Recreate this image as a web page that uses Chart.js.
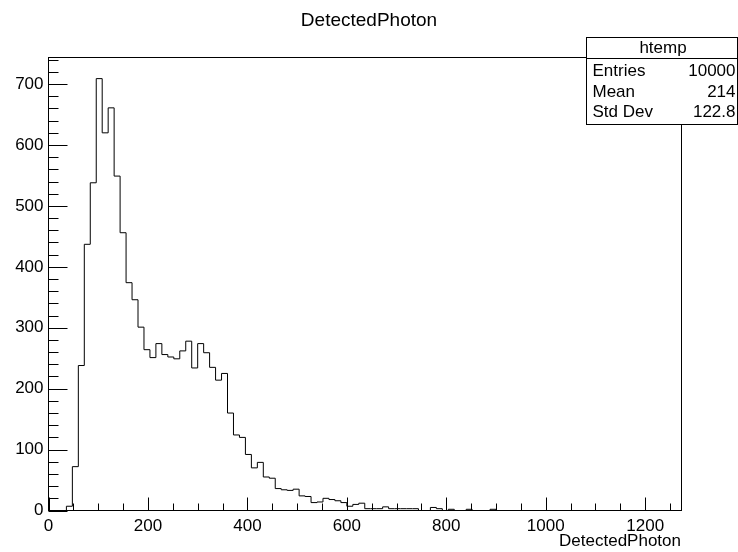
<!DOCTYPE html>
<html>
<head>
<meta charset="utf-8">
<script src="https://cdn.jsdelivr.net/npm/chart.js@4.4.0/dist/chart.umd.min.js"></script>
<style>
  body { margin: 0; background: #fff; }
  canvas { display: block; }
</style>
</head>
<body>
<canvas id="hist" width="738" height="552"></canvas>
<script>
"use strict";

// histogram: 106 bins of width 12 starting at 0
const xMin = 0;
const binWidth = 12;
const counts = [
    0, 0, 0, 7, 72, 238, 437, 538, 709, 620,
    661, 549, 456, 374, 346, 301, 264, 251, 274, 256,
    252, 249, 262, 278, 234, 274, 259, 235, 214, 225,
    160, 124, 120, 92, 70, 79, 55, 53, 36, 34,
    33, 35, 24, 23, 13, 14, 20, 18, 16, 13,
    7, 10, 12, 3, 3, 3, 6, 3, 3, 3,
    3, 3, 0, 0, 5, 3, 0, 2, 0, 0,
    2, 0, 0, 0, 2, 0, 0, 0, 0, 0,
    0, 0, 0, 0, 0, 0, 0, 0, 0, 0,
    0, 0, 0, 0, 0, 0, 0, 0, 0, 0,
    0, 0, 0, 0, 0, 0
];
const xTicks = [0, 200, 400, 600, 800, 1000, 1200];
const yTicks = [0, 100, 200, 300, 400, 500, 600, 700];
const histTitle = "DetectedPhoton";
const statsTitle = "htemp";
const statsLabels = ["Entries", "Mean", "Std Dev"];
const statsValues = ["10000", "214", "122.8"];

const FONT = "'Liberation Sans', Arial, Helvetica, sans-serif";
Chart.defaults.font.family = FONT;
Chart.defaults.color = "#000";

function histPoints() {
    let pts = [];
    for (let i = 0; i < counts.length; i++) {
        pts.push({x: xMin + i * binWidth, y: counts[i]});
    }
    // closing edge of the last bin
    pts.push({x: xMin + counts.length * binWidth, y: counts[counts.length - 1]});
    return pts;
}

// ROOT style frame with inward ticks, the title and the stats box
const rootFrame = {
    id: "rootFrame",
    afterDraw(chart) {
        const ctx = chart.ctx;
        const a = chart.chartArea;
        const xs = chart.scales.x;
        const ys = chart.scales.y;
        const L = Math.floor(a.left) + 0.5;
        const R = Math.floor(a.right) + 0.5;
        const T = Math.floor(a.top) + 0.5;
        const B = Math.floor(a.bottom) + 0.5;

        ctx.save();
        ctx.strokeStyle = "#000";
        ctx.lineWidth = 1;
        ctx.strokeRect(L, T, R - L, B - T);

        ctx.beginPath();
        for (let v = 0; v <= xs.max; v += 50) {
            const px = Math.round(xs.getPixelForValue(v)) + 0.5;
            const len = (v % 200 === 0) ? 13 : 7;
            ctx.moveTo(px, B);
            ctx.lineTo(px, B - len);
        }
        for (let v = 0; v <= ys.max; v += 20) {
            const py = Math.round(ys.getPixelForValue(v)) + 0.5;
            const len = (v % 100 === 0) ? 19 : 10;
            ctx.moveTo(L, py);
            ctx.lineTo(L + len, py);
        }
        ctx.stroke();

        // title, centred on the canvas
        ctx.fillStyle = "#000";
        ctx.font = "19px " + FONT;
        ctx.textAlign = "center";
        ctx.textBaseline = "middle";
        ctx.fillText(histTitle, chart.width / 2, 21);

        // stats box
        const bx = 586.5, by = 37.5, bw = 151, bh = 87, hh = 21;
        ctx.fillStyle = "#fff";
        ctx.fillRect(bx, by, bw, bh);
        ctx.strokeRect(bx, by, bw, bh);
        ctx.beginPath();
        ctx.moveTo(bx, by + hh);
        ctx.lineTo(bx + bw, by + hh);
        ctx.stroke();

        ctx.fillStyle = "#000";
        ctx.font = "17px " + FONT;
        ctx.textBaseline = "middle";
        ctx.textAlign = "center";
        ctx.fillText(statsTitle, bx + bw / 2 + 1, by + 11);
        for (let i = 0; i < statsLabels.length; i++) {
            const ty = by + 34 + i * 20.5;
            ctx.textAlign = "left";
            ctx.fillText(statsLabels[i], bx + 6, ty);
            ctx.textAlign = "right";
            ctx.fillText(statsValues[i], bx + bw - 2, ty);
        }
        ctx.restore();
    }
};

let ctx = document.getElementById("hist").getContext("2d");
let chart = new Chart(ctx, {
    type: "line",
    data: {
        datasets: [{
            label: "htemp",
            data: histPoints(),
            stepped: true,
            borderColor: "#000",
            borderWidth: 1,
            pointRadius: 0,
            fill: false
        }]
    },
    options: {
        responsive: false,
        animation: false,
        devicePixelRatio: 1,
        layout: {
            padding: {top: 57.3, right: 57, bottom: 0, left: 0}
        },
        plugins: {
            legend: {display: false},
            tooltip: {enabled: false},
            title: {display: false}
        },
        scales: {
            x: {
                type: "linear",
                min: 0,
                max: 1272,
                afterBuildTicks: s => { s.ticks = xTicks.map(v => ({value: v})); },
                afterFit: s => { s.height = 41.5; },
                grid: {display: false, drawTicks: false},
                border: {display: false},
                ticks: {
                    color: "#000",
                    font: {size: 17},
                    padding: 6,
                    maxRotation: 0,
                    autoSkip: false,
                    callback: v => String(v)
                },
                title: {
                    display: true,
                    text: "DetectedPhoton",
                    align: "end",
                    color: "#000",
                    font: {size: 17},
                    padding: 0
                }
            },
            y: {
                type: "linear",
                min: 0,
                max: 744,
                afterBuildTicks: s => { s.ticks = yTicks.map(v => ({value: v})); },
                afterFit: s => { s.width = 48.5; },
                grid: {display: false, drawTicks: false},
                border: {display: false},
                ticks: {
                    color: "#000",
                    font: {size: 17},
                    padding: 5,
                    callback: v => String(v)
                }
            }
        }
    },
    plugins: [rootFrame]
});
</script>
</body>
</html>
